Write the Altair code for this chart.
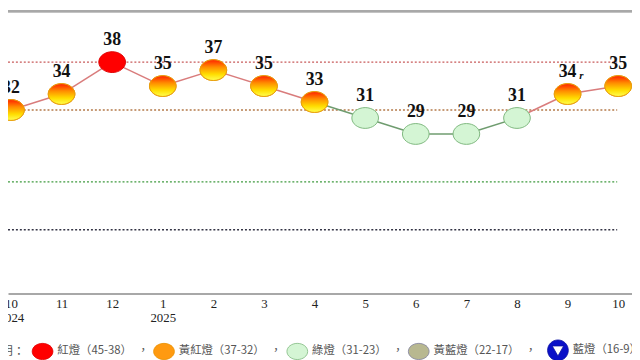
import json
import altair as alt
import pandas as pd

# ---------------- data ----------------
months = ["10", "11", "12", "1", "2", "3", "4", "5", "6", "7", "8", "9", "10"]
years = ["2024", "", "", "2025", "", "", "", "", "", "", "", "", ""]
scores = [32, 34, 38, 35, 37, 35, 33, 31, 29, 29, 31, 34, 35]
lights = ["黃紅燈", "黃紅燈", "紅燈", "黃紅燈", "黃紅燈", "黃紅燈", "黃紅燈",
          "綠燈", "綠燈", "綠燈", "綠燈", "黃紅燈", "黃紅燈"]
notes = ["", "", "", "", "", "", "", "", "", "", "", "r", ""]

legend_names = ["紅燈", "黃紅燈", "綠燈", "黃藍燈", "藍燈"]
legend_ranges = ["45-38", "37-32", "31-23", "22-17", "16-9"]
legend_fill = ["#ff0000", "#ff9a10", "#d4f5d4", "#b8b890", "#0a10c8"]
legend_stroke = ["#e00000", "#e89000", "#7fb87f", "#8080a0", "#0a10a0"]

thresholds = [38, 32, 23, 17]
threshold_colors = ["#c85a5a", "#b47a4a", "#3f9a3f", "#333344"]

# ---------------- tables ----------------
labels_full = [f"{n}（{r}）" for n, r in zip(legend_names, legend_ranges)]
name_to_label = dict(zip(legend_names, labels_full))

pts = pd.DataFrame({
    "i": list(range(len(scores))),
    "score": scores,
    "light": [name_to_label[l] for l in lights],
    "note": notes,
})

seg = pd.DataFrame({
    "i": list(range(len(scores) - 1)),
    "i2": list(range(1, len(scores))),
    "s": scores[:-1],
    "s2": scores[1:],
    "col": ["#6f9c6f" if lights[k + 1] == "綠燈" else "#d97c7c"
            for k in range(len(scores) - 1)],
})

thr = pd.DataFrame({"v": thresholds, "c": threshold_colors})

# ---------------- scales / axes ----------------
XMIN, XMAX = -0.0585, 12.273
xs = alt.Scale(domain=[XMIN, XMAX], nice=False, zero=False)
ys = alt.Scale(domain=[9, 44.5], nice=False, zero=False)

months_js = json.dumps(months, ensure_ascii=False)
years_js = json.dumps(years, ensure_ascii=False)
xaxis = alt.Axis(
    values=list(range(len(months))),
    labelExpr=f"[{months_js}[datum.value], {years_js}[datum.value]]",
    ticks=False, grid=False, title=None,
    domainColor="#a8a8a8", domainWidth=2,
    labelFont="Liberation Serif", labelFontSize=13, labelColor="#222222",
    labelPadding=4, labelLineHeight=14, labelBaseline="top",
    labelFlush=False, labelOverlap=False, labelBound=False,
)

ELLIPSE = "M -1 0 A 1 0.78 0 1 1 1 0 A 1 0.78 0 1 1 -1 0 Z"
BLUE = ("M -1 0 A 1 1 0 1 1 1 0 A 1 1 0 1 1 -1 0 Z "
        "M -0.55 -0.42 L 0 0.55 L 0.55 -0.42 Z")
shapes = [ELLIPSE, ELLIPSE, ELLIPSE, ELLIPSE, BLUE]

last_label = labels_full[-1]
wide_label = labels_full[3]
legend = alt.Legend(
    title="說明：", orient="none", legendX=-19, legendY=333,
    direction="horizontal", columns=5, padding=0,
    titleOrient="left", titleFont="Noto Sans CJK TC", titleFontSize=12,
    titleFontWeight="normal", titleColor="#555555", titlePadding=6,
    titleBaseline="middle",
    labelFont="Noto Sans CJK TC", labelFontSize=11.5, labelColor="#555555",
    labelExpr=(f"datum.label == '{last_label}' ? datum.label : "
               f"(datum.label == '{wide_label}' ? datum.label + '　，\u2002\u200b' : datum.label + '　，')"),
    labelOffset=4, columnPadding=2, symbolSize=441,
    symbolStrokeColor="#888888", symbolStrokeWidth=0.8, labelLimit=220,
)

# ---------------- layers ----------------
top_border = alt.Chart(thr).mark_rule(color="#a8a8a8", strokeWidth=2).encode(
    y=alt.Y(datum=44.38, scale=ys, axis=None)
)

thr_rules = alt.Chart(thr).mark_rule(strokeWidth=1.3, strokeDash=[2, 2]).encode(
    x=alt.X(datum=XMIN, scale=xs, axis=xaxis),
    x2=alt.X2(datum=11.98),
    y=alt.Y("v:Q", scale=ys, axis=None),
    color=alt.Color("c:N", scale=None),
)

segments = alt.Chart(seg).mark_rule(strokeWidth=1.5).encode(
    x=alt.X("i:Q", scale=xs, axis=xaxis),
    x2="i2:Q",
    y=alt.Y("s:Q", scale=ys, axis=None),
    y2="s2:Q",
    color=alt.Color("col:N", scale=None),
)

points = alt.Chart(pts).mark_point(filled=True, opacity=1, size=729, strokeWidth=1).encode(
    x=alt.X("i:Q", scale=xs, axis=xaxis),
    y=alt.Y("score:Q", scale=ys, axis=None),
    fill=alt.Fill("light:N", scale=alt.Scale(domain=labels_full, range=legend_fill), legend=legend),
    shape=alt.Shape("light:N", scale=alt.Scale(domain=labels_full, range=shapes), legend=legend),
    stroke=alt.Stroke("light:N", scale=alt.Scale(domain=labels_full, range=legend_stroke), legend=None),
)

grad = alt.LinearGradient(
    gradient="linear",
    stops=[alt.GradientStop(offset=0, color="#ff2000"),
           alt.GradientStop(offset=0.35, color="#ff8c00"),
           alt.GradientStop(offset=0.7, color="#ffdd00"),
           alt.GradientStop(offset=1, color="#ffff50")],
    x1=0, x2=0, y1=0, y2=1,
)
orange = alt.Chart(pts).transform_filter(
    alt.datum.light == name_to_label["黃紅燈"]
).mark_point(filled=True, opacity=1, size=729, shape=ELLIPSE, fill=grad,
             stroke="#e8a010", strokeWidth=1).encode(
    x=alt.X("i:Q", scale=xs, axis=xaxis),
    y=alt.Y("score:Q", scale=ys, axis=None),
)

text = alt.Chart(pts).mark_text(
    dy=-22, font="Liberation Serif", fontWeight="bold", fontSize=18, color="#111111"
).encode(
    x=alt.X("i:Q", scale=xs, axis=xaxis),
    y=alt.Y("score:Q", scale=ys, axis=None),
    text="score:Q",
)

note = alt.Chart(pts).transform_filter(alt.datum.note != "").mark_text(
    dx=14, dy=-18, font="Liberation Serif", fontWeight="bold", fontStyle="italic",
    fontSize=11, color="#111111"
).encode(
    x=alt.X("i:Q", scale=xs, axis=xaxis),
    y=alt.Y("score:Q", scale=ys, axis=None),
    text="note:N",
)

chart = alt.layer(top_border, thr_rules, segments, points, orange, text, note).properties(
    width=632, height=287,
    padding={"left": 0, "right": 0, "top": 0, "bottom": 65},
    autosize=alt.AutoSizeParams(type="none"),
    background="white",
).configure_view(stroke=None)

chart.save("out.html", embed_options={"renderer": "svg", "actions": False})
